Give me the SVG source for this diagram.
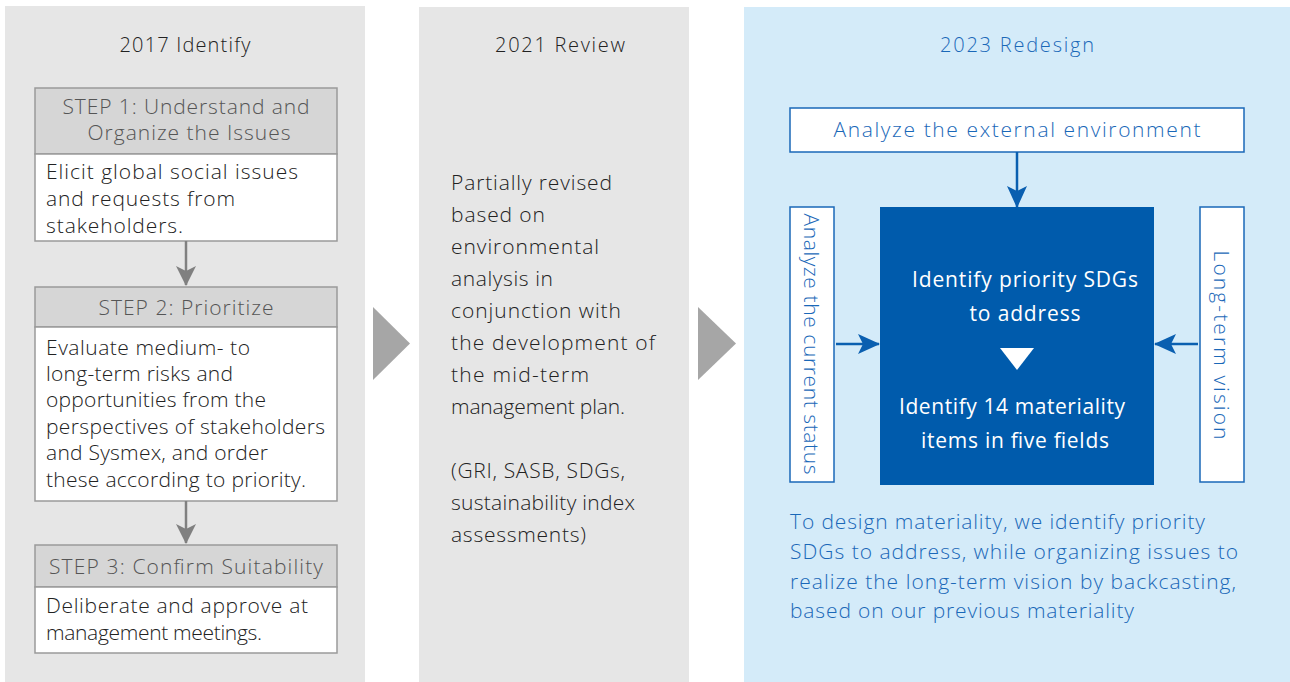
<svg xmlns="http://www.w3.org/2000/svg" width="1290" height="682" viewBox="0 0 1290 682">
<style>
text{font-family:"Open Sans","Noto Sans","DejaVu Sans",sans-serif;font-weight:300;}
.panel{fill:#e6e6e6;}
.panelb{fill:#d4ebf9;}
.title{font-size:20px;fill:#222;text-anchor:middle;}
.titleb{font-size:20px;fill:#1a68b8;text-anchor:middle;}
.hdr{fill:#d6d6d6;stroke:#9a9a9a;stroke-width:1.5;}
.body{fill:#fff;stroke:#9a9a9a;stroke-width:1.5;}
.htxt{font-size:21px;fill:#555;text-anchor:middle;}
.btxt{font-size:21px;fill:#222;}
.mtxt{font-size:21px;fill:#222;}
.wbox{fill:#fff;stroke:#1a68b8;stroke-width:1.5;}
.btext{font-size:21px;fill:#1a68b8;}
.wtxt{font-size:21px;fill:#fff;text-anchor:middle;font-weight:400;}
.gline{stroke:#808080;stroke-width:2.5;fill:none;}
.bline{stroke:#0a5fb0;stroke-width:2.5;fill:none;}
</style>
<defs>
<marker id="ag" viewBox="0 0 20 24" refX="19" refY="12" markerWidth="20" markerHeight="24" markerUnits="userSpaceOnUse" orient="auto">
<path d="M0,2 L20,12 L0,22 L5,12 Z" fill="#808080"/>
</marker>
<marker id="ab" viewBox="0 0 22 22" refX="21" refY="11" markerWidth="22" markerHeight="22" markerUnits="userSpaceOnUse" orient="auto">
<path d="M0,1 L22,11 L0,21 L5,11 Z" fill="#0a5fb0"/>
</marker>
</defs>

<g id="panel-2017">
<rect class="panel" x="5" y="6" width="360" height="676"/>
<text class="title" x="185" y="52" textLength="131" lengthAdjust="spacing">2017 Identify</text>
</g>
<g id="step1">
<rect class="hdr" x="35" y="88" width="302" height="66"/>
<rect class="body" x="35" y="154" width="302" height="87"/>
<text class="htxt" x="186" y="114" textLength="247" lengthAdjust="spacing">STEP 1: Understand and</text>
<text class="htxt" x="189" y="140" textLength="203" lengthAdjust="spacing">Organize the Issues</text>
<text class="btxt" x="46" y="179" textLength="252" lengthAdjust="spacing">Elicit global social issues</text>
<text class="btxt" x="46" y="206" textLength="189" lengthAdjust="spacing">and requests from</text>
<text class="btxt" x="46" y="233" textLength="137" lengthAdjust="spacing">stakeholders.</text>
</g>
<g id="step2">
<rect class="hdr" x="35" y="287" width="302" height="40"/>
<rect class="body" x="35" y="327" width="302" height="174"/>
<text class="htxt" x="186" y="315" textLength="175" lengthAdjust="spacing">STEP 2: Prioritize</text>
<text class="btxt" x="46" y="355" textLength="204" lengthAdjust="spacing">Evaluate medium- to</text>
<text class="btxt" x="46" y="381" textLength="187" lengthAdjust="spacing">long-term risks and</text>
<text class="btxt" x="46" y="407" textLength="220" lengthAdjust="spacing">opportunities from the</text>
<text class="btxt" x="46" y="434" textLength="279" lengthAdjust="spacing">perspectives of stakeholders</text>
<text class="btxt" x="46" y="460" textLength="222" lengthAdjust="spacing">and Sysmex, and order</text>
<text class="btxt" x="46" y="487" textLength="260" lengthAdjust="spacing">these according to priority.</text>
</g>
<g id="step3">
<rect class="hdr" x="35" y="545" width="302" height="42"/>
<rect class="body" x="35" y="587" width="302" height="66"/>
<text class="htxt" x="186" y="574" textLength="274" lengthAdjust="spacing">STEP 3: Confirm Suitability</text>
<text class="btxt" x="46" y="613" textLength="262" lengthAdjust="spacing">Deliberate and approve at</text>
<text class="btxt" x="46" y="640" textLength="216" lengthAdjust="spacing">management meetings.</text>
</g>

<g id="panel-2021">
<rect class="panel" x="419" y="7" width="270" height="675"/>
<text class="title" x="560" y="52" textLength="130" lengthAdjust="spacing">2021 Review</text>
<text class="mtxt" x="451" y="190" textLength="161" lengthAdjust="spacing">Partially revised</text>
<text class="mtxt" x="451" y="222" textLength="94" lengthAdjust="spacing">based on</text>
<text class="mtxt" x="451" y="254" textLength="148" lengthAdjust="spacing">environmental</text>
<text class="mtxt" x="451" y="286" textLength="102" lengthAdjust="spacing">analysis in</text>
<text class="mtxt" x="451" y="318" textLength="170" lengthAdjust="spacing">conjunction with</text>
<text class="mtxt" x="451" y="350" textLength="204" lengthAdjust="spacing">the development of</text>
<text class="mtxt" x="451" y="382" textLength="138" lengthAdjust="spacing">the mid-term</text>
<text class="mtxt" x="451" y="414" textLength="174" lengthAdjust="spacing">management plan.</text>
<text class="mtxt" x="451" y="478" textLength="174" lengthAdjust="spacing">(GRI, SASB, SDGs,</text>
<text class="mtxt" x="451" y="510" textLength="184" lengthAdjust="spacing">sustainability index</text>
<text class="mtxt" x="451" y="542" textLength="135" lengthAdjust="spacing">assessments)</text>
</g>

<g id="panel-2023">
<rect class="panelb" x="744" y="7" width="546" height="675"/>
<text class="titleb" x="1017" y="52" textLength="154" lengthAdjust="spacing">2023 Redesign</text>
<text class="btext" x="790" y="529" textLength="415" lengthAdjust="spacing">To design materiality, we identify priority</text>
<text class="btext" x="790" y="559" textLength="448" lengthAdjust="spacing">SDGs to address, while organizing issues to</text>
<text class="btext" x="790" y="589" textLength="446" lengthAdjust="spacing">realize the long-term vision by backcasting,</text>
<text class="btext" x="790" y="618" textLength="344" lengthAdjust="spacing">based on our previous materiality</text>
</g>
<g id="external">
<rect class="wbox" x="790" y="108" width="454" height="44"/>
<text class="btext" x="1017" y="137" text-anchor="middle" textLength="367" lengthAdjust="spacing">Analyze the external environment</text>
</g>
<g id="current">
<rect class="wbox" x="790" y="207" width="44" height="275"/>
<text class="btext" transform="translate(812,344) rotate(90)" text-anchor="middle" dominant-baseline="central" textLength="261" lengthAdjust="spacing">Analyze the current status</text>
</g>
<g id="vision">
<rect class="wbox" x="1200" y="207" width="44" height="275"/>
<text class="btext" transform="translate(1222,345) rotate(90)" text-anchor="middle" dominant-baseline="central" textLength="189" lengthAdjust="spacing">Long-term vision</text>
</g>
<g id="core">
<rect x="880" y="207" width="274" height="278" fill="#005bac"/>
<text class="wtxt" x="1025" y="287" textLength="226" lengthAdjust="spacing">Identify priority SDGs</text>
<text class="wtxt" x="1025" y="321" textLength="111" lengthAdjust="spacing">to address</text>
<path d="M1000,348 L1034,348 L1017,370 Z" fill="#fff"/>
<text class="wtxt" x="1012" y="414" textLength="226" lengthAdjust="spacing">Identify 14 materiality</text>
<text class="wtxt" x="1015" y="448" textLength="188" lengthAdjust="spacing">items in five fields</text>
</g>

<g id="connectors">
<line class="gline" x1="186" y1="241" x2="186" y2="285" marker-end="url(#ag)"/>
<line class="gline" x1="186" y1="501" x2="186" y2="543" marker-end="url(#ag)"/>
<path d="M373,307 L410,343.5 L373,380 Z" fill="#a6a6a6"/>
<path d="M698,307 L736,343.5 L698,380 Z" fill="#a6a6a6"/>
<line class="bline" x1="1017" y1="152" x2="1017" y2="207" marker-end="url(#ab)"/>
<line class="bline" x1="836" y1="344" x2="879" y2="344" marker-end="url(#ab)"/>
<line class="bline" x1="1198" y1="344" x2="1155" y2="344" marker-end="url(#ab)"/>
</g>
</svg>
